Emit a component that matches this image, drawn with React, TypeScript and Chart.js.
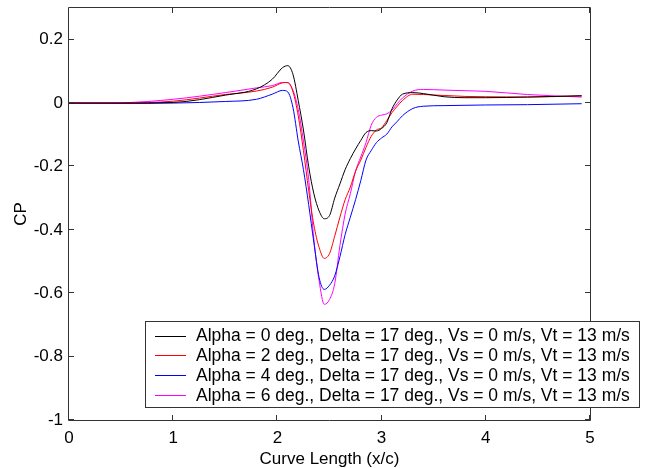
import React, { useEffect, useRef } from "react";
import { Chart, registerables } from "chart.js";

Chart.register(...registerables);

// Curve length positions (x/c)
const xValues = [0, 0.5, 1.0, 1.5, 1.8, 1.95, 2.05, 2.1, 2.15, 2.2, 2.25, 2.3, 2.35, 2.4, 2.45, 2.5, 2.55, 2.6, 2.65, 2.7, 2.75, 2.8, 2.85, 2.9, 2.95, 3.0, 3.05, 3.1, 3.15, 3.2, 3.3, 3.4, 3.6, 3.8, 4.0, 4.4, 4.92];

// CP values for each case
const cpAlpha0 = [0, 0, 0.002, 0.025, 0.045, 0.075, 0.112, 0.118, 0.09, 0.008, -0.085, -0.2, -0.286, -0.34, -0.365, -0.355, -0.3, -0.255, -0.21, -0.175, -0.145, -0.118, -0.093, -0.087, -0.088, -0.08, -0.062, -0.018, 0.01, 0.028, 0.033, 0.03, 0.02, 0.017, 0.017, 0.019, 0.023];
const cpAlpha2 = [0, 0, 0.006, 0.027, 0.038, 0.05, 0.064, 0.065, 0.035, -0.04, -0.15, -0.275, -0.385, -0.455, -0.49, -0.475, -0.42, -0.36, -0.305, -0.265, -0.215, -0.18, -0.14, -0.105, -0.085, -0.078, -0.055, -0.03, -0.01, 0.008, 0.028, 0.027, 0.024, 0.021, 0.02, 0.019, 0.023];
const cpAlpha4 = [0, -0.001, 0, 0.005, 0.012, 0.028, 0.04, 0.035, -0.015, -0.12, -0.21, -0.32, -0.44, -0.55, -0.588, -0.575, -0.545, -0.485, -0.415, -0.36, -0.305, -0.245, -0.18, -0.15, -0.125, -0.11, -0.098, -0.075, -0.058, -0.04, -0.017, -0.01, -0.008, -0.007, -0.006, -0.005, -0.002];
const cpAlpha6 = [0, 0.001, 0.012, 0.033, 0.048, 0.055, 0.065, 0.064, 0.04, -0.02, -0.12, -0.24, -0.43, -0.56, -0.635, -0.62, -0.57, -0.45, -0.35, -0.286, -0.215, -0.17, -0.125, -0.07, -0.045, -0.038, -0.034, -0.022, -0.002, 0.016, 0.038, 0.043, 0.041, 0.039, 0.037, 0.027, 0.019];

const seriesLabels = [
  "Alpha = 0 deg., Delta = 17 deg., Vs = 0 m/s, Vt = 13 m/s",
  "Alpha = 2 deg., Delta = 17 deg., Vs = 0 m/s, Vt = 13 m/s",
  "Alpha = 4 deg., Delta = 17 deg., Vs = 0 m/s, Vt = 13 m/s",
  "Alpha = 6 deg., Delta = 17 deg., Vs = 0 m/s, Vt = 13 m/s",
];
const seriesColors = ["#000000", "#ff0000", "#0000ff", "#ff00ff"];
const seriesValues = [cpAlpha0, cpAlpha2, cpAlpha4, cpAlpha6];

const xTicks = [0, 1, 2, 3, 4, 5];
const yTicks = [-1, -0.8, -0.6, -0.4, -0.2, 0, 0.2];
const xTitle = "Curve Length (x/c)";
const yTitle = "CP";

const FONT = "'Liberation Sans', Arial, sans-serif";
const AXIS_COLOR = "#333333";

const boxAndTicksPlugin = {
  id: "boxAndTicks",
  afterDatasetsDraw(chart: any) {
    const { ctx, chartArea, scales } = chart;
    const { left, right, top, bottom } = chartArea;
    const tl = 5;
    ctx.save();
    ctx.strokeStyle = AXIS_COLOR;
    ctx.lineWidth = 1;
    ctx.beginPath();
    ctx.rect(Math.round(left) - 0.5, Math.round(top) - 0.5, Math.round(right - left) + 1, Math.round(bottom - top) + 1);
    ctx.stroke();
    ctx.beginPath();
    xTicks.forEach((v) => {
      const px = Math.round(scales.x.getPixelForValue(v)) - 0.5;
      ctx.moveTo(px, bottom);
      ctx.lineTo(px, bottom - tl);
      ctx.moveTo(px, top);
      ctx.lineTo(px, top + tl);
    });
    yTicks.forEach((v) => {
      const py = Math.round(scales.y.getPixelForValue(v)) - 0.5;
      ctx.moveTo(left, py);
      ctx.lineTo(left + tl, py);
      ctx.moveTo(right, py);
      ctx.lineTo(right - tl, py);
    });
    ctx.stroke();
    ctx.restore();
  },
};

const legendPlugin = {
  id: "customLegend",
  afterDraw(chart: any) {
    const { ctx } = chart;
    const bx = 145.5, by = 321.5, bw = 494, bh = 86;
    ctx.save();
    ctx.fillStyle = "#ffffff";
    ctx.fillRect(bx, by, bw, bh);
    ctx.strokeStyle = AXIS_COLOR;
    ctx.lineWidth = 1;
    ctx.strokeRect(bx, by, bw, bh);
    ctx.font = "17.5px " + FONT;
    ctx.textBaseline = "middle";
    ctx.textAlign = "left";
    seriesLabels.forEach((label, i) => {
      const cy = 335.5 + i * 19.8;
      ctx.fillStyle = seriesColors[i];
      ctx.fillRect(155, Math.round(cy), 31, 1);
      ctx.fillStyle = "#000000";
      ctx.fillText(label, 196, cy + 1);
    });
    ctx.restore();
  },
};

export default function App() {
  const canvasRef = useRef<HTMLCanvasElement | null>(null);

  useEffect(() => {
    document.body.style.margin = "0";
    const canvas = canvasRef.current;
    if (!canvas) return;
    const chart = new Chart(canvas, {
      type: "line",
      data: {
        datasets: seriesValues.map((vals, i) => ({
          label: seriesLabels[i],
          data: xValues.map((x, j) => ({ x, y: vals[j] })),
          borderColor: seriesColors[i],
          backgroundColor: seriesColors[i],
          borderWidth: 1,
          pointRadius: 0,
          fill: false,
          cubicInterpolationMode: "monotone" as const,
        })),
      },
      options: {
        responsive: false,
        animation: false,
        devicePixelRatio: 1,
        layout: { padding: { top: 8, right: 60, left: 0, bottom: 0 } },
        plugins: {
          legend: { display: false },
          tooltip: { enabled: false },
        },
        scales: {
          x: {
            type: "linear",
            min: 0,
            max: 5,
            afterBuildTicks: (scale: any) => {
              scale.ticks = xTicks.map((v) => ({ value: v }));
            },
            afterFit: (scale: any) => {
              scale.height = 48;
              scale.paddingLeft = 0;
              scale.paddingRight = 0;
            },
            grid: { display: false, drawTicks: false },
            border: { display: false },
            ticks: {
              color: "#000000",
              font: { family: FONT, size: 17 },
              padding: 8,
              maxRotation: 0,
              callback: (v: any) => String(v),
            },
            title: {
              display: true,
              text: xTitle,
              color: "#000000",
              font: { family: FONT, size: 17 },
              padding: { top: 0, bottom: -2 },
            },
          },
          y: {
            type: "linear",
            min: -1,
            max: 0.3,
            afterBuildTicks: (scale: any) => {
              scale.ticks = yTicks.map((v) => ({ value: v }));
            },
            afterFit: (scale: any) => {
              scale.width = 69;
              scale.paddingTop = 0;
              scale.paddingBottom = 0;
            },
            grid: { display: false, drawTicks: false },
            border: { display: false },
            ticks: {
              color: "#000000",
              font: { family: FONT, size: 17 },
              padding: 6,
              callback: (v: any) => String(Math.round(Number(v) * 10) / 10),
            },
            title: {
              display: true,
              text: yTitle,
              color: "#000000",
              font: { family: FONT, size: 17 },
              padding: { top: 11, bottom: 0 },
            },
          },
        },
      },
      plugins: [boxAndTicksPlugin, legendPlugin],
    });
    return () => chart.destroy();
  }, []);

  return (
    <div style={{ width: 650, height: 468, background: "#ffffff" }}>
      <canvas ref={canvasRef} width={650} height={468} style={{ display: "block" }} />
    </div>
  );
}
